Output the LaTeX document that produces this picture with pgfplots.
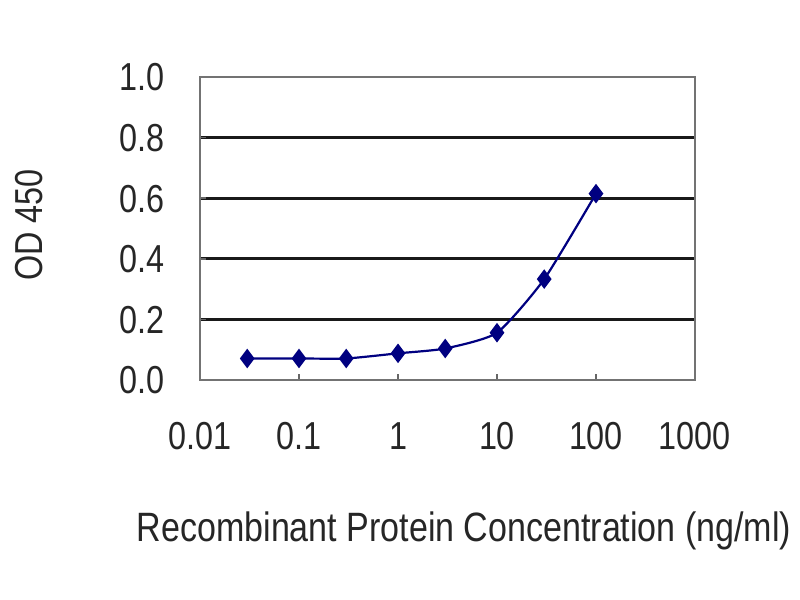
\documentclass[border=0pt]{standalone}
\usepackage{fontspec}
\setmainfont{Liberation Sans}[FakeStretch=0.83]
\usepackage{pgfplots}
\pgfplotsset{compat=1.18}
\newcommand\chartfont{\fontsize{39bp}{46bp}\selectfont}
\definecolor{txt}{HTML}{262626}
\definecolor{navyline}{HTML}{000080}
\begin{document}
\begin{tikzpicture}
\path[use as bounding box] (0,0) rectangle (800bp,600bp);
\begin{axis}[
  at={(200bp,220bp)}, anchor=south west,
  scale only axis,
  width=495bp, height=303bp,
  xmode=log,
  xmin=0.01, xmax=1000,
  ymin=0, ymax=1,
  xtick={0.01,0.1,1,10,100,1000},
  xticklabels={0.01,0.1,1,10,100,1000},
  ytick={0,0.2,0.4,0.6,0.8,1},
  yticklabels={0.0,0.2,0.4,0.6,0.8,1.0},
  xminorticks=false,
  tick align=inside,
  xtick pos=bottom, ytick pos=left,
  major tick length=6bp,
  tick style={line width=1.5bp, color=black!60},
  axis line style={line width=2bp, color=black!55},
  ymajorgrids,
  major grid style={line width=2.8bp, color=black!90},
  xticklabel style={font=\chartfont, text=txt, anchor=base, inner sep=0pt, yshift=-70bp},
  yticklabel style={font=\chartfont, text=txt, anchor=base east, inner sep=0pt, xshift=-35bp, yshift=-14bp},
  clip=false,
]
\addplot[color=navyline, line width=2.2bp, smooth, tension=0.35,
  mark=diamond*, mark size=8bp, mark options={fill=navyline, draw=navyline}]
  table {
x y
0.03 0.071
0.1 0.071
0.3 0.071
1 0.088
3 0.104
10 0.156
30 0.333
100 0.615
};
\end{axis}
\node[font=\fontsize{41bp}{48bp}\selectfont, text=txt, inner sep=0pt] at (464bp,69bp) {Recombinant Protein Concentration (ng/ml)};
\node[font=\chartfont, text=txt, inner sep=0pt, rotate=90] at (29bp,375bp) {OD 450};
\end{tikzpicture}
\end{document}
